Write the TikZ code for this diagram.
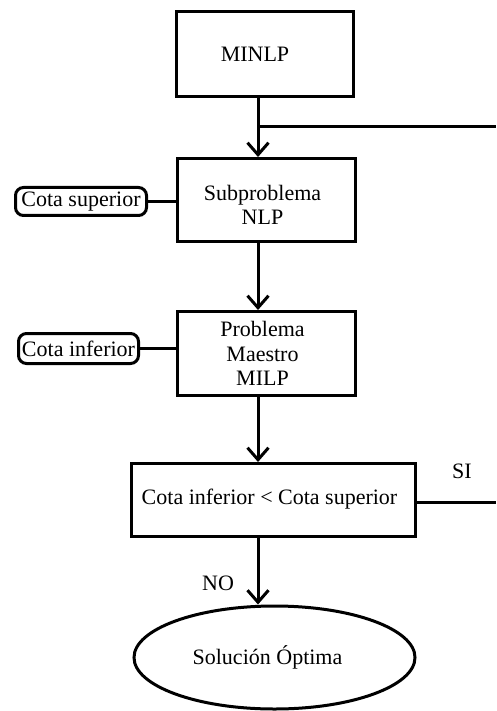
\documentclass[tikz,border=0pt]{standalone}
\usepackage{fontspec}
\setmainfont{Liberation Serif}
\usetikzlibrary{arrows.meta,shapes.geometric}

\begin{document}
\begin{tikzpicture}[x=1pt,y=-1pt,
  font=\fontsize{22}{24.5}\selectfont,
  every node/.style={inner sep=0pt, align=center},
  box/.style={draw, line width=3pt, rectangle},
  tag/.style={draw, line width=3pt, rectangle, rounded corners=8pt},
  oval/.style={draw, line width=3pt, ellipse},
  link/.style={line width=3pt},
  flow/.style={line width=3pt, -{Straight Barb[length=12pt,width=21pt,line width=3pt]}}
]
  \useasboundingbox (0,0) rectangle (496,711);

  % vertical spine shared by all the downward arrows
  \coordinate (spine) at (258,0);
  \coordinate (loop-top) at (496,126.5);
  \coordinate (loop-bot) at (496,502.5);

  % process boxes
  \node[box, minimum width=177pt, minimum height=85pt,
        label={[xshift=-10pt]center:MINLP}] (minlp) at (265,54) {};
  \node[box, minimum width=178pt, minimum height=83pt,
        label={[xshift=-4pt,yshift=-5pt]center:Subproblema\\NLP}] (sub) at (266.5,200) {};
  \node[box, minimum width=178pt, minimum height=84pt,
        label={[xshift=-4pt]center:Problema\\Maestro\\MILP}] (master) at (266.5,353.5) {};
  \node[box, minimum width=284pt, minimum height=73pt,
        label={[xshift=-4pt,yshift=1pt]center:Cota inferior < Cota superior}] (check) at (273.5,500) {};
  \node[oval, minimum width=281pt, minimum height=103pt,
        label={[xshift=-7pt]center:Solución Óptima}] (sol) at (274.5,657.5) {};

  % bound tags
  \node[tag, minimum width=131pt, minimum height=28pt] (upper) at (81,201.5) {Cota superior};
  \node[tag, minimum width=120pt, minimum height=30pt] (lower) at (78.5,348.5) {Cota inferior};

  % branch labels
  \node (si) at (462,471) {SI};
  \node (no) at (218,583) {NO};

  % connectors
  \draw[flow] (minlp.south -| spine) -- (sub.north -| spine);
  \draw[link] (spine |- loop-top) -- (loop-top);
  \draw[flow] (sub.south -| spine) -- (master.north -| spine);
  \draw[flow] (master.south -| spine) -- (check.north -| spine);
  \draw[flow] (check.south -| spine) -- (spine |- sol.north);
  \draw[link] (upper.east) -- (upper.east -| sub.west);
  \draw[link] (lower.east) -- (lower.east -| master.west);
  \draw[link] (check.east |- loop-bot) -- (loop-bot);
\end{tikzpicture}
\end{document}
